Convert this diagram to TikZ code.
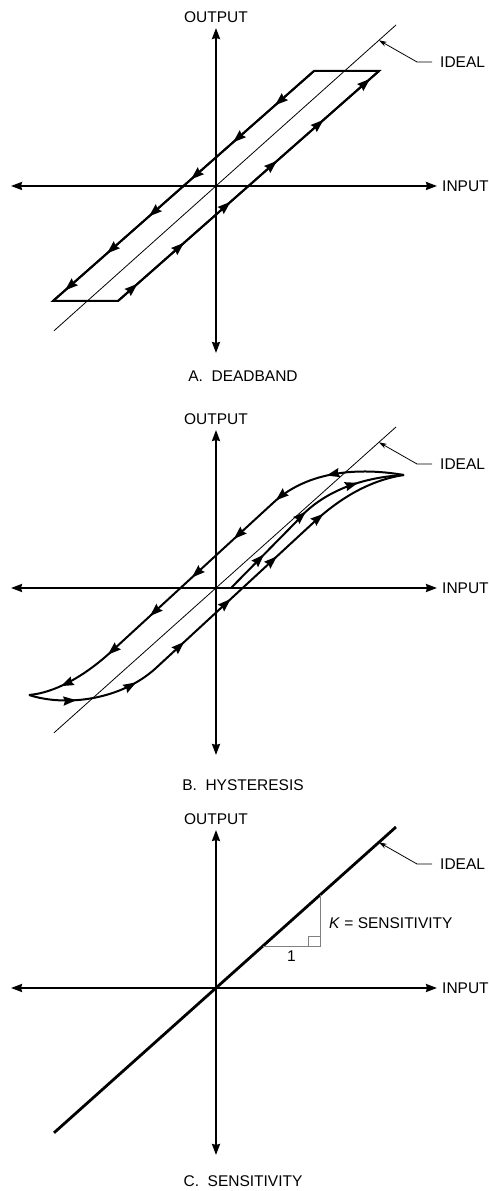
\documentclass[tikz,border=0pt]{standalone}
\usepackage{fontspec}
\setmainfont{Liberation Sans}
\usetikzlibrary{arrows.meta, positioning, calc, decorations.markings}

\tikzset{
    axis/.style={line width=2pt, {Stealth[length=11pt, width=8pt, inset=1pt]}-{Stealth[length=11pt, width=8pt, inset=1pt]}},
    idealline/.style={line width=0.8pt},
    loopline/.style={line width=2pt, line join=miter},
    leader/.style={line width=0.8pt, {Stealth[length=8pt, width=5pt]}-},
    lbl/.style={font=\fontsize{15.5}{18}\selectfont, inner sep=0pt},
    flowmarks/.style n args={3}{postaction={decorate},
        decoration={markings, mark=between positions #1 and #2 step #3 with {\arrow{Stealth[length=13pt, width=9pt, inset=1.5pt]}}}},
}

% axes with labels, ideal line with leader
\newcommand{\axespanel}[2]{%
    \coordinate (#1-top) at (0,158);
    \coordinate (#1-bot) at (0,-167);
    \coordinate (#1-left) at (-205,0);
    \coordinate (#1-right) at (221,0);
    \draw[axis] (#1-bot) -- (#1-top);
    \draw[axis] (#1-left) -- (#1-right);
    \node[lbl, above=5pt of #1-top] (#1-output) {OUTPUT};
    \node[lbl, right=5pt of #1-right] (#1-input) {INPUT};
    \coordinate (#1-lo) at (-162,-144.8);
    \coordinate (#1-hi) at (180,161);
    \draw[#2] (#1-lo) -- (#1-hi);
    \coordinate (#1-tip) at ($(#1-lo)!0.95!(#1-hi)$);
    \coordinate (#1-knee) at (201,124);
    \node[lbl, anchor=west] (#1-ideal) at (224,124) {IDEAL};
    \draw[leader, shorten >=8pt] (#1-tip) -- (#1-knee) -- (#1-ideal.west);
}

\begin{document}
\begin{tikzpicture}[x=1pt, y=1pt, >=Stealth]
    \useasboundingbox (0,0) rectangle (488,1191);

    % A. deadband
    \begin{scope}[shift={(216,1005)}]
        \axespanel{a}{idealline}
        \coordinate (a-tl) at (98,115);
        \coordinate (a-tr) at (163,115);
        \coordinate (a-br) at (-98,-115);
        \coordinate (a-bl) at (-163,-115);
        \draw[loopline] (a-bl) -- (a-br) -- (a-tr) -- (a-tl) -- cycle;
        \draw[loopline, flowmarks={26pt}{340pt}{62pt}] (a-br) -- (a-tr);
        \draw[loopline, flowmarks={52pt}{335pt}{56pt}] (a-tl) -- (a-bl);
        \node[lbl] (a-cap) at (27,-190) {A.\ \ DEADBAND};
    \end{scope}

    % B. hysteresis
    \begin{scope}[shift={(216,603)}]
        \axespanel{b}{idealline}
        \coordinate (b-rtip) at (188,113);
        \coordinate (b-ltip) at (-187,-107);
        \coordinate (b-start) at (15,0);
        \draw[loopline, flowmarks={78pt}{420pt}{57pt}] (b-rtip)
            .. controls (135,122) and (88,114) .. (57,85) -- (-103,-62)
            .. controls (-133,-90) and (-163,-105) .. (b-ltip);
        \draw[loopline, flowmarks={48pt}{425pt}{63pt}] (b-ltip)
            .. controls (-150,-119) and (-95,-112) .. (-60,-80) -- (97,65)
            .. controls (125,91) and (155,108) .. (b-rtip);
        \draw[loopline, flowmarks={47pt}{170pt}{60pt}] (b-start) -- (80,66)
            .. controls (100,90) and (135,110) .. (b-rtip);
        \node[lbl] (b-cap) at (27,-197) {B.\ \ HYSTERESIS};
    \end{scope}

    % C. sensitivity
    \begin{scope}[shift={(216,203)}]
        \axespanel{c}{line width=2.8pt}
        \coordinate (c-run) at (47,42);
        \coordinate (c-corner) at (104,42);
        \coordinate (c-rise) at (104,93);
        \draw[gray, line width=0.9pt] (c-run) -- (c-corner) -- (c-rise);
        \draw[gray, line width=0.9pt] ($(c-corner)+(-12,0)$) |- ($(c-corner)+(0,10)$);
        \node[lbl, below=5pt] (c-one) at ($(c-run)!0.5!(c-corner)$) {1};
        \node[lbl, anchor=west] (c-sens) at (113,65) {\textit{K} = SENSITIVITY};
        \node[lbl] (c-cap) at (27,-193) {C.\ \ SENSITIVITY};
    \end{scope}
\end{tikzpicture}
\end{document}
